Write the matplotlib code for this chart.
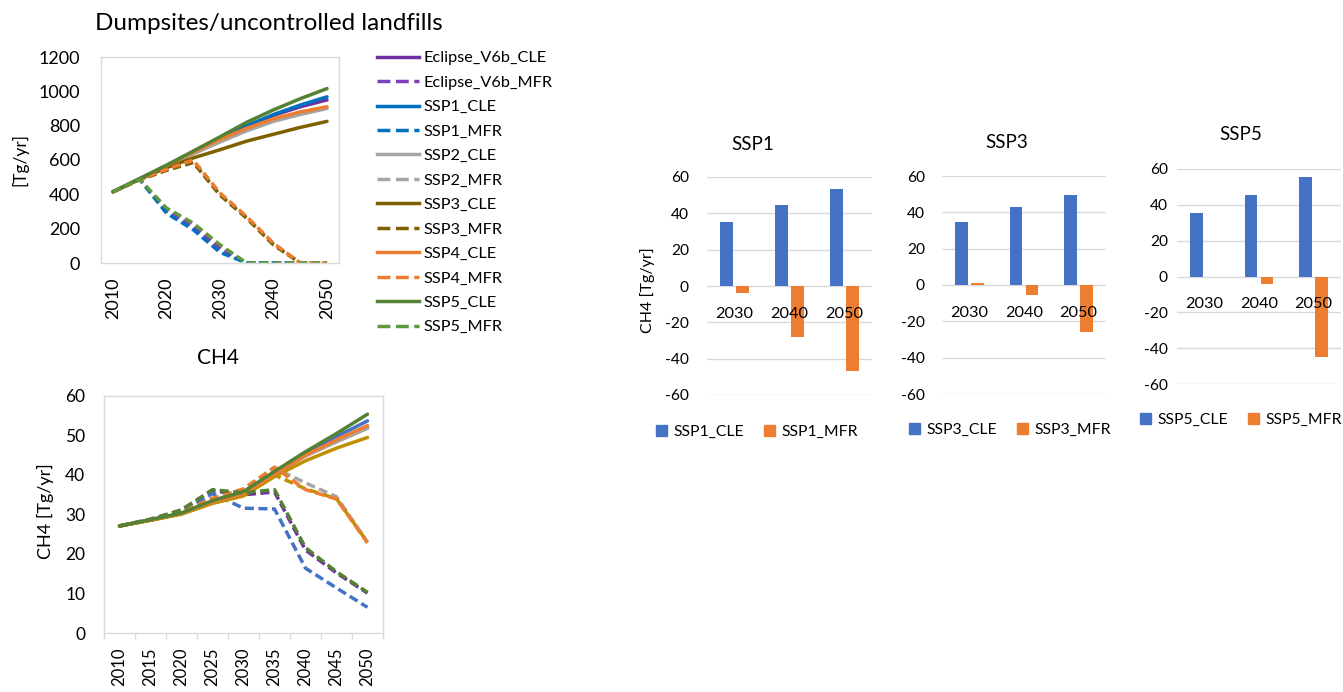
import matplotlib
matplotlib.use("Agg")
import matplotlib.pyplot as plt
from matplotlib.lines import Line2D
from matplotlib.patches import Patch
import numpy as np

plt.rcParams['font.family'] = ['Lato', 'DejaVu Sans']
plt.rcParams['axes.unicode_minus'] = False

# ---------------- data ----------------
years = [2010, 2015, 2020, 2025, 2030, 2035, 2040, 2045, 2050]
year_labels_top = [2010, 2020, 2030, 2040, 2050]

# Dumpsites / uncontrolled landfills, waste amount [Tg/yr]
waste_series = ["Eclipse_V6b_CLE", "Eclipse_V6b_MFR", "SSP1_CLE", "SSP1_MFR",
                "SSP2_CLE", "SSP2_MFR", "SSP3_CLE", "SSP3_MFR",
                "SSP4_CLE", "SSP4_MFR", "SSP5_CLE", "SSP5_MFR"]
waste_eclipse_cle = [415, 490, 565, 640, 720, 795, 860, 910, 950]
waste_eclipse_mfr = [415, 487, 305, 212, 85, 0, 0, 0, 0]
waste_ssp1_cle = [415, 490, 565, 645, 725, 800, 865, 920, 968]
waste_ssp1_mfr = [415, 487, 290, 194, 62, 0, 0, 0, 0]
waste_ssp2_cle = [415, 490, 562, 635, 705, 770, 825, 865, 900]
waste_ssp2_mfr = [415, 485, 540, 590, 400, 265, 110, 0, 0]
waste_ssp3_cle = [415, 488, 555, 612, 660, 710, 750, 790, 825]
waste_ssp3_mfr = [415, 485, 540, 585, 395, 260, 105, 0, 0]
waste_ssp4_cle = [415, 492, 568, 645, 720, 785, 840, 880, 910]
waste_ssp4_mfr = [415, 488, 545, 600, 408, 270, 115, 0, 0]
waste_ssp5_cle = [415, 492, 570, 652, 735, 820, 892, 957, 1016]
waste_ssp5_mfr = [415, 487, 320, 232, 106, 0, 0, 0, 0]

# CH4 emissions [Tg/yr]
ch4_eclipse_cle = [27.1, 28.6, 30.2, 33.0, 35.1, 40.0, 45.0, 48.6, 52.0]
ch4_eclipse_mfr = [27.1, 28.8, 31.0, 36.0, 35.0, 35.7, 21.0, 15.2, 10.1]
ch4_ssp1_cle = [27.1, 28.6, 30.2, 33.1, 35.2, 40.3, 45.5, 49.7, 53.7]
ch4_ssp1_mfr = [27.1, 28.6, 30.5, 35.3, 31.6, 31.4, 16.4, 11.4, 6.5]
ch4_ssp2_cle = [27.1, 28.6, 30.2, 33.0, 35.0, 40.0, 44.8, 48.4, 51.8]
ch4_ssp2_mfr = [27.1, 28.7, 30.6, 34.0, 36.3, 41.8, 38.0, 34.5, 23.0]
ch4_ssp3_cle = [27.1, 28.5, 30.1, 32.8, 34.7, 39.6, 43.6, 46.8, 49.5]
ch4_ssp3_mfr = [27.1, 28.6, 30.3, 33.0, 35.0, 40.0, 36.5, 34.0, 23.0]
ch4_ssp4_cle = [27.1, 28.6, 30.3, 33.2, 35.3, 40.2, 45.0, 48.9, 52.5]
ch4_ssp4_mfr = [27.1, 28.7, 30.6, 34.1, 36.5, 42.0, 36.3, 33.9, 22.8]
ch4_ssp5_cle = [27.1, 28.7, 30.4, 33.5, 35.8, 40.9, 45.9, 50.5, 55.4]
ch4_ssp5_mfr = [27.1, 28.8, 31.2, 36.3, 35.5, 36.3, 21.6, 15.5, 10.3]

# Change in CH4 relative to 2010 [Tg/yr]
bar_years = ["2030", "2040", "2050"]
ssp1_cle_delta = [35.2, 44.8, 53.6]
ssp1_mfr_delta = [-3.7, -27.9, -46.8]
ssp3_cle_delta = [34.9, 42.8, 49.4]
ssp3_mfr_delta = [1.1, -5.3, -26.0]
ssp5_cle_delta = [35.3, 45.4, 55.4]
ssp5_mfr_delta = [0.0, -4.1, -45.0]

# ---------------- styling ----------------
W, H = 1343, 692
fig = plt.figure(figsize=(W / 100, H / 100), dpi=100)


def fx(x):
    return x / W


def fy(y):
    return 1 - y / H


FRAME = "#D9D9D9"
DASH = (2.4, 1.3)

top_colors = ["#7030A0", "#7F3FBF", "#0070C0", "#0070C0", "#A5A5A5", "#A5A5A5",
              "#7F6000", "#7F6000", "#ED7D31", "#ED7D31", "#548235", "#5E9A3C"]
bot_colors = ["#7030A0", "#7030A0", "#4472C4", "#4472C4", "#A5A5A5", "#A5A5A5",
              "#BF9000", "#BF9000", "#ED7D31", "#ED7D31", "#548235", "#548235"]

waste_data = [waste_eclipse_cle, waste_eclipse_mfr, waste_ssp1_cle, waste_ssp1_mfr,
              waste_ssp2_cle, waste_ssp2_mfr, waste_ssp3_cle, waste_ssp3_mfr,
              waste_ssp4_cle, waste_ssp4_mfr, waste_ssp5_cle, waste_ssp5_mfr]
ch4_data = [ch4_eclipse_cle, ch4_eclipse_mfr, ch4_ssp1_cle, ch4_ssp1_mfr,
            ch4_ssp2_cle, ch4_ssp2_mfr, ch4_ssp3_cle, ch4_ssp3_mfr,
            ch4_ssp4_cle, ch4_ssp4_mfr, ch4_ssp5_cle, ch4_ssp5_mfr]

# ---------------- top-left: waste in dumpsites ----------------
ax1 = fig.add_axes([fx(101), fy(263), fx(238), 206 / H])
handles = []
for name, vals, col in zip(waste_series, waste_data, top_colors):
    dashed = name.endswith("MFR")
    ln, = ax1.plot(years, vals, color=col, lw=2.5,
                   linestyle=(0, DASH) if dashed else "-",
                   solid_capstyle="round", dash_capstyle="butt", label=name)
    handles.append(ln)
ax1.set_xlim(2007.76, 2052.24)
ax1.set_ylim(0, 1200)
ax1.set_yticks(range(0, 1201, 200))
ax1.set_xticks(year_labels_top)
ax1.set_xticklabels([str(y) for y in year_labels_top], rotation=90)
ax1.tick_params(axis="both", length=0, labelsize=13)
ax1.tick_params(axis="y", pad=15)
ax1.tick_params(axis="x", pad=10.5)
for s in ax1.spines.values():
    s.set_color(FRAME)
    s.set_linewidth(1.0)

fig.text(fx(95), fy(23), "Dumpsites/uncontrolled landfills", fontsize=17.5,
         ha="left", va="center")
fig.text(fx(20), fy(160), "[Tg/yr]", fontsize=12.5, rotation=90,
         ha="center", va="center")

leg_handles = [Line2D([], [], color=h.get_color(), lw=2.5,
                      linestyle=h.get_linestyle()) for h in handles]
fig.legend(leg_handles, waste_series, loc="upper left",
           bbox_to_anchor=(fx(377), fy(51)), frameon=False, fontsize=11.7,
           handlelength=2.6, handletextpad=0.25, labelspacing=0.62,
           borderpad=0, borderaxespad=0)

# ---------------- bottom-left: CH4 ----------------
ax2 = fig.add_axes([fx(104), fy(633), fx(279), 237 / H])
xpos = np.arange(len(years))
for name, vals, col in zip(waste_series, ch4_data, bot_colors):
    dashed = name.endswith("MFR")
    ax2.plot(xpos, vals, color=col, lw=2.5,
             linestyle=(0, (2.6, 1.3)) if dashed else "-",
             solid_capstyle="round")
ax2.set_xlim(-0.5, len(years) - 0.5)
ax2.set_ylim(0, 60)
ax2.set_yticks(range(0, 61, 10))
ax2.set_xticks(xpos)
ax2.set_xticklabels([str(y) for y in years], rotation=90)
ax2.set_xticks(np.arange(-0.5, len(years)), minor=True)
ax2.tick_params(axis="x", which="major", length=0, pad=10.8, labelsize=12)
ax2.tick_params(axis="x", which="minor", length=4.3, color=FRAME, width=1.0)
ax2.tick_params(axis="y", length=0, pad=13.5, labelsize=12.5)
for s in ax2.spines.values():
    s.set_color(FRAME)
    s.set_linewidth(1.0)

fig.text(fx(218), fy(358), "CH4", fontsize=15, ha="center", va="center")
fig.text(fx(45), fy(511), "CH4 [Tg/yr]", fontsize=13, rotation=90,
         ha="center", va="center")

# ---------------- right: bar panels ----------------
BLUE = "#4472C4"
ORANGE = "#ED7D31"
bar_w = 0.23
off = 0.145

panels = [
    ("SSP1", ssp1_cle_delta, ssp1_mfr_delta, [707, 177, 872, 395], (753, 144), (757, 432), 13.0),
    ("SSP3", ssp3_cle_delta, ssp3_mfr_delta, [942, 176, 1106, 394], (1007, 142), (1010, 430), 12.3),
    ("SSP5", ssp5_cle_delta, ssp5_mfr_delta, [1177, 169, 1341, 384], (1241, 135), (1241, 420), 6.5),
]

for title, cle, mfr, (x0, y0, x1, y1), tpos, lpos, ypad in panels:
    ax = fig.add_axes([fx(x0), fy(y1), (x1 - x0) / W, (y1 - y0) / H])
    bx = np.arange(len(bar_years))
    ticks = list(range(-60, 61, 20))
    for t in ticks:
        ax.axhline(t, color=FRAME, lw=1.0, zorder=0)
    ax.bar(bx - off, cle, width=bar_w, color=BLUE, zorder=2)
    ax.bar(bx + off, mfr, width=bar_w, color=ORANGE, zorder=2)
    ax.set_xlim(-0.5, len(bar_years) - 0.5)
    ax.set_ylim(-60, 60)
    ax.set_yticks(ticks)
    ax.set_xticks(bx)
    ax.set_xticklabels(bar_years)
    for side in ("left", "right", "top", "bottom"):
        ax.spines[side].set_visible(False)
    ax.spines["bottom"].set_position(("data", 0))
    ax.xaxis.set_zorder(5)
    ax.tick_params(axis="x", length=0, pad=15, labelsize=11.7)
    ax.tick_params(axis="y", length=0, pad=ypad, labelsize=11.2)
    fig.text(fx(tpos[0]), fy(tpos[1]), title, fontsize=13.5,
             ha="center", va="center")
    lh = [Patch(color=BLUE), Patch(color=ORANGE)]
    ax.legend(lh, [f"{title}_CLE", f"{title}_MFR"], loc="center",
              bbox_to_anchor=(fx(lpos[0]), fy(lpos[1])),
              bbox_transform=fig.transFigure, ncol=2, frameon=False,
              fontsize=11.3, handlelength=0.7, handleheight=0.7,
              handletextpad=0.4, columnspacing=1.25, borderpad=0)

fig.text(fx(648), fy(290), "CH4 [Tg/yr]", fontsize=11.5, rotation=90,
         ha="center", va="center")

fig.savefig("out.png", dpi=100)
